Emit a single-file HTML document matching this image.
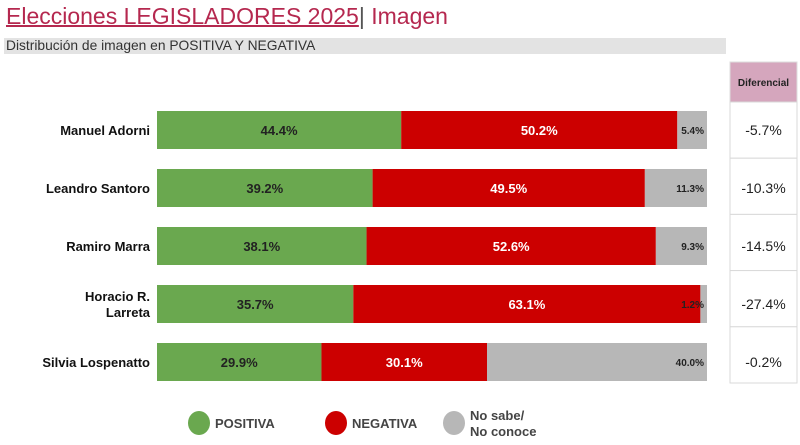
<!DOCTYPE html>
<html><head><meta charset="utf-8"><style>
body{margin:0;width:800px;height:445px;background:#fff;overflow:hidden;font-family:"Liberation Sans",sans-serif;position:relative}
.abs{position:absolute}
</style></head><body>
<div class="abs" style="left:6px;top:3px;font-size:23px;color:#b5284f;white-space:nowrap"><span style="text-decoration:underline;text-decoration-thickness:2px">Elecciones LEGISLADORES 2025</span><span style="color:#555">|</span> Imagen</div>
<div class="abs" style="left:4px;top:38px;width:720px;height:16px;background:#e3e3e3;font-size:13.8px;color:#333;line-height:16px;padding-left:2px">Distribución de imagen en POSITIVA Y NEGATIVA</div>
<svg id="chart" class="abs" style="left:0;top:0" width="800" height="445"></svg>
<script>
const names=[["Manuel Adorni"],["Leandro Santoro"],["Ramiro Marra"],["Horacio R.","Larreta"],["Silvia Lospenatto"]];
const positiva=[44.4,39.2,38.1,35.7,29.9];
const negativa=[50.2,49.5,52.6,63.1,30.1];
const nosabe=[5.4,11.3,9.3,1.2,40.0];
const diferencial=["-5.7%","-10.3%","-14.5%","-27.4%","-0.2%"];
const NS="http://www.w3.org/2000/svg";
const svg=document.getElementById('chart');
const x0=157,scale=5.5,rowY=i=>111+i*58,bh=38;
const xs=v=>v*scale;
function mk(tag,attrs,parent){const e=document.createElementNS(NS,tag);for(const k in attrs)e.setAttribute(k,attrs[k]);(parent||svg).appendChild(e);return e;}
const cols=["#6aa84f","#cc0000","#b7b7b7"];
const hdr=mk('rect',{x:730,y:62,width:67,height:40,fill:"#d5a6bd",stroke:"#ddd"});


const ht=mk('text',{x:763.5,y:86,'text-anchor':'middle','font-size':10,'font-weight':'bold',fill:'#222'});ht.textContent="Diferencial";


for(let i=0;i<names.length;i++){
  const y=rowY(i);
  const segs=[positiva[i],negativa[i],nosabe[i]];
  let x=x0;
  segs.forEach((v,j)=>{
    const r=mk('rect',{x:x,y:y,width:xs(v),height:bh,fill:cols[j]});
    
    
    const t=mk('text',{'font-weight':'bold',y:y+bh/2+(j==2?4:5),'font-size':j==2?10:13,fill:j==1?'#fff':'#222'});
    if(j==2){t.setAttribute('x',x+xs(v)-3);t.setAttribute('text-anchor','end');}
    else{t.setAttribute('x',x+xs(v)/2);t.setAttribute('text-anchor','middle');}
    t.textContent=v.toFixed(1)+"%";
    
    
    x+=xs(v);
  });
  const lines=names[i];
  lines.forEach((ln,k)=>{
    const t=mk('text',{x:150,y:y+bh/2+5+(k-(lines.length-1)/2)*16,'text-anchor':'end','font-size':13,'font-weight':'bold',fill:'#111'});
    t.textContent=ln;
    
    
  });
  const cy=102+i*56.2;
  const c=mk('rect',{x:730,y:cy,width:67,height:56.2,fill:'#fff',stroke:'#d9d9d9'});
  
  
  const dt=mk('text',{x:763.5,y:y+bh/2+5,'text-anchor':'middle','font-size':14,fill:'#222'});
  dt.textContent=diferencial[i];
  
  
}
const leg=[["POSITIVA",cols[0],199],["NEGATIVA",cols[1],336],["No sabe/|No conoce",cols[2],454]];
leg.forEach(l=>{
  const e=mk('ellipse',{cx:l[2],cy:423,rx:11,ry:12,fill:l[1]});
  
  
  const parts=l[0].split('|');
  parts.forEach((p,k)=>{
    const t=mk('text',{x:l[2]+16,y:428+(k-(parts.length-1)/2)*16,'font-size':13,'font-weight':'bold',fill:'#444'});
    t.textContent=p;
    
    
  });
});
</script>
</body></html>
